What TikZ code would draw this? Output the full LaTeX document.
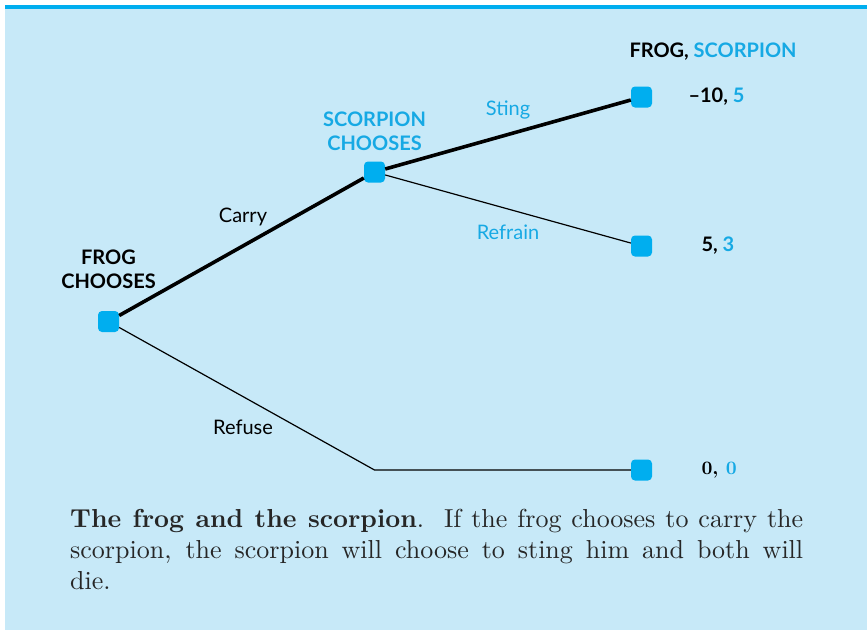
\documentclass[tikz,border=0pt]{standalone}
\usepackage{fontspec}
\usepackage{tikz}
\usetikzlibrary{positioning,calc}
\newfontfamily\gamefont{Lato}
\newfontfamily\captionfont{lmroman10-regular}[Extension=.otf,
  BoldFont=lmroman10-bold]
\definecolor{panelblue}{HTML}{C7E9F8}
\definecolor{gamecyan}{HTML}{00AEEF}
\definecolor{labelcyan}{HTML}{16A9E4}

\begin{document}
\begin{tikzpicture}[
    x=1pt, y=-1pt,
    decision/.style={fill=gamecyan, rounded corners=4pt, minimum size=21pt,
                     inner sep=0pt},
    chosen/.style={line width=3.6pt},
    other/.style={line width=1.2pt},
    player/.style={font=\gamefont\bfseries\fontsize{20}{24}\selectfont, align=center},
    movelabel/.style={font=\gamefont\fontsize{20}{22}\selectfont},
    payoff/.style={font=\gamefont\bfseries\fontsize{20}{22}\selectfont, anchor=west},
  ]

  % === Panel ===
  \useasboundingbox (0,0) rectangle (867,630);
  \fill[panelblue] (4.5,5) rectangle (867,630);
  \fill[gamecyan] (4.5,5) rectangle (867,9);

  % === Decision nodes ===
  \node[decision] (frogchoice) at (108.5,321.5) {};
  \node[decision] (scorpchoice) at (374.5,172) {};
  \node[decision] (stingend) at (641.5,97) {};
  \node[decision] (refrainend) at (641.5,246) {};
  \node[decision] (refuseend) at (641.5,470) {};
  \coordinate (refusebend) at (374.5,470);

  % === Branches ===
  \draw[chosen] (frogchoice) -- (scorpchoice);
  \draw[chosen] (scorpchoice) -- (stingend);
  \draw[other] (scorpchoice) -- (refrainend);
  \draw[other] (frogchoice) -- (refusebend) -- (refuseend);

  % === Players ===
  \node[player] (froglabel) at (108.5,269) {FROG\\CHOOSES};
  \node[player, text=labelcyan] (scorplabel) at (374.5,131) {SCORPION\\CHOOSES};
  \node[player, anchor=west] (header) at (626,52)
    {FROG, \textcolor{labelcyan}{SCORPION}};

  % === Moves ===
  \node[movelabel] (carry) at (243,217) {Carry};
  \node[movelabel, text=labelcyan] (sting) at (508,110) {Sting};
  \node[movelabel, text=labelcyan] (refrain) at (508,232) {Refrain};
  \node[movelabel] (refuse) at (243,427) {Refuse};

  % === Payoffs ===
  \node[payoff] (stingpay) at (685,97) {–10, \textcolor{labelcyan}{5}};
  \node[payoff] (refrainpay) at (698,246) {5, \textcolor{labelcyan}{3}};
  \node[payoff, font=\captionfont\bfseries\fontsize{19}{22}\selectfont]
    (refusepay) at (698,470) {0, \textcolor{labelcyan}{0}};

  % === Caption ===
  \node[anchor=north west, inner sep=0pt, text width=733pt, align=justify,
        font=\captionfont\fontsize{26}{31}\selectfont, text=black!85] (caption)
    at (70,509)
    {\textbf{The frog and the scorpion}.\ \ If the frog chooses to carry the\linebreak
     scorpion, the scorpion will choose to sting him and both will\linebreak
     die.};

\end{tikzpicture}
\end{document}
